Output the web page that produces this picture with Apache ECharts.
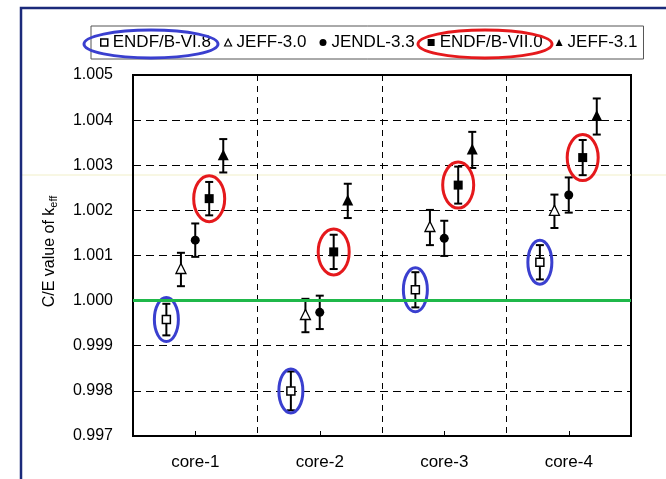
<!DOCTYPE html>
<html>
<head>
<meta charset="utf-8">
<script src="https://cdn.jsdelivr.net/npm/echarts@6/dist/echarts.min.js"></script>
<style>
  html, body { margin: 0; padding: 0; background: #fff; }
  #chart { width: 666px; height: 479px; }
</style>
</head>
<body>
<div id="chart"></div>
<script>
// Benchmark cores
const cores = ['core-1', 'core-2', 'core-3', 'core-4'];

// Y axis range and tick step
const yMin = 0.997;
const yMax = 1.005;
const yStep = 0.001;

// C/E values of k_eff per evaluated nuclear data library, and their 1-sigma uncertainties
const endfb68 = [0.99958, 0.99800, 1.00024, 1.00085];
const endfb68Err = [0.00035, 0.00043, 0.00039, 0.00038];

const jeff30 = [1.00069, 0.99967, 1.00162, 1.00198];
const jeff30Err = [0.00037, 0.00037, 0.00039, 0.00037];

const jendl33 = [1.00134, 0.99974, 1.00138, 1.00234];
const jendl33Err = [0.00037, 0.00037, 0.00039, 0.00039];

const endfb70 = [1.00226, 1.00108, 1.00256, 1.00317];
const endfb70Err = [0.00037, 0.00038, 0.00041, 0.00039];

const jeff31 = [1.00321, 1.00221, 1.00334, 1.00408];
const jeff31Err = [0.00037, 0.00038, 0.00040, 0.00040];

// Reference line C/E = 1
const unity = 1.000;

const chart = echarts.init(document.getElementById('chart'));

function toData(values, errs) {
  return values.map((v, i) => [i, v, errs[i]]);
}

// Marker shapes drawn around the point centre
function marker(kind, x, y) {
  const black = '#000';
  switch (kind) {
    case 'openSquare':
      return { type: 'rect', shape: { x: x - 4, y: y - 4, width: 8, height: 8 },
        style: { fill: '#fff', stroke: black, lineWidth: 1.5 } };
    case 'square':
      return { type: 'rect', shape: { x: x - 4.5, y: y - 4.5, width: 9, height: 9 },
        style: { fill: black } };
    case 'circle':
      return { type: 'circle', shape: { cx: x, cy: y, r: 4.5 }, style: { fill: black } };
    case 'openTriangle':
      return { type: 'polygon', shape: { points: [[x, y - 6], [x - 5, y + 4], [x + 5, y + 4]] },
        style: { fill: '#fff', stroke: black, lineWidth: 1.3 } };
    case 'triangle':
      return { type: 'polygon', shape: { points: [[x, y - 6.5], [x - 5.5, y + 4.5], [x + 5.5, y + 4.5]] },
        style: { fill: black } };
  }
}

// Error bar + marker, shifted within the category band; optional highlight ellipse
function makeSeries(name, values, errs, offset, kind, ring) {
  return {
    name: name,
    type: 'custom',
    data: toData(values, errs),
    z: ring ? 4 : 3,
    renderItem: function (params, api) {
      const ci = api.value(0), v = api.value(1), e = api.value(2);
      const band = api.size([1, 0])[0];
      const c = api.coord([ci, v]);
      const x = c[0] + offset * band;
      const yTop = api.coord([ci, v + e])[1];
      const yBot = api.coord([ci, v - e])[1];
      const ls = { stroke: '#000', lineWidth: 2 };
      const children = [
        { type: 'line', shape: { x1: x, y1: yTop, x2: x, y2: yBot }, style: ls },
        { type: 'line', shape: { x1: x - 4, y1: yTop, x2: x + 4, y2: yTop }, style: ls },
        { type: 'line', shape: { x1: x - 4, y1: yBot, x2: x + 4, y2: yBot }, style: ls },
        marker(kind, x, c[1])
      ];
      if (ring) {
        children.push({
          type: 'ellipse',
          shape: { cx: x, cy: c[1], rx: ring.rx, ry: ring.ry },
          style: { fill: 'none', stroke: ring.color, lineWidth: 3 }
        });
      }
      return { type: 'group', children: children };
    }
  };
}

const BLUE = '#3a3fcf';
const RED = '#e5191c';

const series = [
  makeSeries('ENDF/B-VI.8', endfb68, endfb68Err, -0.232, 'openSquare', { rx: 12, ry: 22, color: BLUE }),
  makeSeries('JEFF-3.0', jeff30, jeff30Err, -0.115, 'openTriangle', null),
  makeSeries('JENDL-3.3', jendl33, jendl33Err, 0, 'circle', null),
  makeSeries('ENDF/B-VII.0', endfb70, endfb70Err, 0.112, 'square', { rx: 15.5, ry: 23, color: RED }),
  makeSeries('JEFF-3.1', jeff31, jeff31Err, 0.225, 'triangle', null)
];

// Green C/E = 1 line
series[0].markLine = {
  silent: true,
  symbol: 'none',
  label: { show: false },
  lineStyle: { color: '#1fb84a', width: 3, type: 'solid' },
  data: [{ yAxis: unity }]
};

const FONT = 'Liberation Sans, Arial, sans-serif';

chart.setOption({
  backgroundColor: '#fff',
  animation: false,
  textStyle: { fontFamily: FONT },
  grid: {
    left: 133, right: 35, top: 75, bottom: 43,
    show: true, borderColor: '#000', borderWidth: 2, backgroundColor: 'transparent'
  },
  legend: {
    left: 91, top: 26,
    padding: [8, 6, 8, 9],
    itemGap: 13,
    itemWidth: 7, itemHeight: 7,
    borderColor: '#555', borderWidth: 1,
    selectedMode: false,
    textStyle: { fontSize: 17, color: '#000', fontFamily: FONT },
    data: [
      { name: 'ENDF/B-VI.8', icon: 'rect', itemStyle: { color: '#fff', borderColor: '#000', borderWidth: 1.5 } },
      { name: 'JEFF-3.0', icon: 'triangle', itemStyle: { color: '#fff', borderColor: '#000', borderWidth: 1.2 } },
      { name: 'JENDL-3.3', icon: 'circle', itemStyle: { color: '#000' } },
      { name: 'ENDF/B-VII.0', icon: 'rect', itemStyle: { color: '#000' } },
      { name: 'JEFF-3.1', icon: 'triangle', itemStyle: { color: '#000' } }
    ]
  },
  xAxis: {
    type: 'category',
    data: cores,
    boundaryGap: true,
    axisLine: { show: true, lineStyle: { color: '#000', width: 2 } },
    axisTick: { show: true, inside: true, alignWithLabel: true, length: 5, lineStyle: { color: '#000', width: 1 } },
    axisLabel: { fontSize: 17, color: '#000', margin: 18 },
    splitLine: { show: true, interval: 0, lineStyle: { color: '#000', type: [6, 5], width: 1 } }
  },
  yAxis: {
    type: 'value',
    min: yMin, max: yMax, interval: yStep,
    name: '{a|C/E value of k}{s|eff}',
    nameLocation: 'middle',
    nameRotate: 90,
    nameGap: 73,
    nameTextStyle: {
      padding: [0, 0, 0, 8],
      rich: {
        a: { fontSize: 16, color: '#000', fontFamily: FONT, lineHeight: 20 },
        s: { fontSize: 11, color: '#000', fontFamily: FONT, lineHeight: 20, padding: [7, 0, 0, 0] }
      }
    },
    axisLine: { show: true, lineStyle: { color: '#000', width: 2 } },
    axisTick: { show: false },
    axisLabel: { fontSize: 16, color: '#000', margin: 20, formatter: v => v.toFixed(3) },
    splitLine: { show: true, lineStyle: { color: '#000', type: [8, 5], width: 1 } }
  },
  graphic: [
    // Page frame
    { type: 'polyline', z: 100, shape: { points: [[21, 479], [21, 8], [666, 8]] },
      style: { fill: 'none', stroke: '#1b2a7a', lineWidth: 2.5 } },
    // Faint scan line
    { type: 'line', z: 0, shape: { x1: 22, y1: 175, x2: 666, y2: 175 },
      style: { stroke: '#f1efc8', lineWidth: 1 } },
    // Highlight rings in the legend
    { type: 'ellipse', z: 100, shape: { cx: 151, cy: 44, rx: 67, ry: 14 },
      style: { fill: 'none', stroke: BLUE, lineWidth: 3 } },
    { type: 'ellipse', z: 100, shape: { cx: 485, cy: 44, rx: 67, ry: 14 },
      style: { fill: 'none', stroke: RED, lineWidth: 3 } }
  ],
  series: series
});
</script>
</body>
</html>
